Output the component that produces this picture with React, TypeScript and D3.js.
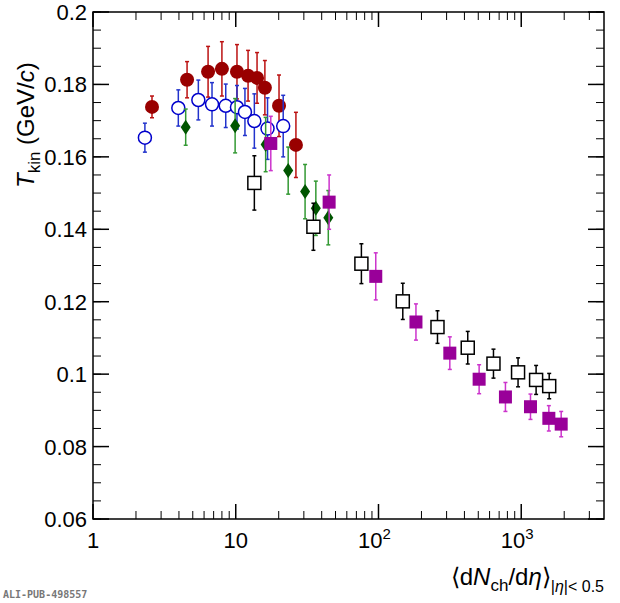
import React from "react";
import * as d3 from "d3";

const redX = [2.59, 4.56, 6.4, 8.0, 10.2, 12.2, 14.1, 16.0, 20.1, 26.4];
const redY = [0.1738, 0.1813, 0.1835, 0.1843, 0.1835, 0.1824, 0.1818, 0.1791, 0.1741, 0.1633];
const redE = [0.003, 0.005, 0.007, 0.0075, 0.0075, 0.007, 0.007, 0.0075, 0.0085, 0.009];

const blueX = [2.31, 3.96, 5.47, 6.82, 8.51, 10.2, 11.6, 13.5, 16.7, 21.5];
const blueY = [0.1653, 0.1735, 0.1757, 0.1745, 0.1741, 0.1737, 0.1724, 0.1699, 0.1678, 0.1685];
const blueE = [0.004, 0.005, 0.0055, 0.006, 0.006, 0.006, 0.0065, 0.0075, 0.0085, 0.0085];

const greenX = [4.46, 9.9, 16.2, 23.3, 30.6, 36.4, 44.5];
const greenY = [0.1682, 0.1686, 0.1634, 0.1562, 0.1504, 0.1458, 0.1432];
const greenE = [0.005, 0.0075, 0.0075, 0.0065, 0.0075, 0.0075, 0.0075];

const blackX = [13.5, 35.0, 75.9, 148, 259, 422, 639, 950, 1271, 1570];
const blackY = [0.1528, 0.1407, 0.1305, 0.1201, 0.113, 0.1073, 0.1029, 0.1005, 0.0984, 0.0967];
const blackE = [0.0075, 0.0065, 0.0055, 0.005, 0.0045, 0.0045, 0.004, 0.004, 0.004, 0.0035];

const magX = [17.6, 45.1, 95.7, 183, 316, 507, 775, 1161, 1561, 1905];
const magY = [0.1637, 0.1475, 0.127, 0.1144, 0.1058, 0.0986, 0.0937, 0.091, 0.0878, 0.0862];
const magE = [0.0075, 0.0075, 0.0065, 0.005, 0.0045, 0.004, 0.004, 0.0035, 0.0035, 0.0035];

const yTicks = [0.06, 0.08, 0.1, 0.12, 0.14, 0.16, 0.18, 0.2];
const yTickLabels = ["0.06", "0.08", "0.1", "0.12", "0.14", "0.16", "0.18", "0.2"];
const xTicks = [1, 10, 100, 1000];
const xTickLabels = ["1", "10", "10", "10"];
const xTickExp = ["", "", "2", "3"];

const L = 93, R = 604, T = 12, B = 519;
const FONT = "Liberation Sans, Arial, sans-serif";

export default function App() {
  const x = d3.scaleLog().domain([1, 3800]).range([L, R]);
  const y = d3.scaleLinear().domain([0.06, 0.2]).range([B, T]);

  const minorX: number[] = [];
  for (let p = 0; p < 4; p++) for (let m = 2; m <= 9; m++) { const v = m * Math.pow(10, p); if (v < 3800) minorX.push(v); }
  const minorY: number[] = d3.range(0.06, 0.2001, 0.005);

  const bars = (xs: number[], ys: number[], es: number[], col: string, k: string) =>
    xs.map((v, i) => (
      <g key={k + i} stroke={col} strokeWidth={1.5}>
        <line x1={x(v)} x2={x(v)} y1={y(ys[i] - es[i])} y2={y(ys[i] + es[i])} />
        <line x1={x(v) - 2} x2={x(v) + 2} y1={y(ys[i] - es[i])} y2={y(ys[i] - es[i])} />
        <line x1={x(v) - 2} x2={x(v) + 2} y1={y(ys[i] + es[i])} y2={y(ys[i] + es[i])} />
      </g>
    ));

  return (
    <div style={{ position: "absolute", left: 0, top: 0 }}>
      <svg width={620} height={603} style={{ display: "block", background: "#fff" }} fontFamily={FONT}>
        <rect x={L} y={T} width={R - L} height={B - T} fill="none" stroke="#000" strokeWidth={1.5} />
        {minorX.map((v, i) => (
          <g key={"mx" + i} stroke="#000" strokeWidth={1}>
            <line x1={x(v)} x2={x(v)} y1={B} y2={B - 8} />
            <line x1={x(v)} x2={x(v)} y1={T} y2={T + 8} />
          </g>
        ))}
        {xTicks.map((v, i) => (
          <g key={"xt" + i}>
            <line x1={x(v)} x2={x(v)} y1={B} y2={B - 15} stroke="#000" strokeWidth={1.5} />
            <line x1={x(v)} x2={x(v)} y1={T} y2={T + 15} stroke="#000" strokeWidth={1.5} />
            <text x={x(v) + (xTickExp[i] ? -4 : 0)} y={B + 29} fontSize={22} textAnchor="middle">
              {xTickLabels[i]}
              {xTickExp[i] && <tspan dy={-9} fontSize={15}>{xTickExp[i]}</tspan>}
            </text>
          </g>
        ))}
        {minorY.map((v, i) => (
          <g key={"my" + i} stroke="#000" strokeWidth={1}>
            <line x1={L} x2={L + 8} y1={y(v)} y2={y(v)} />
            <line x1={R} x2={R - 8} y1={y(v)} y2={y(v)} />
          </g>
        ))}
        {yTicks.map((v, i) => (
          <g key={"yt" + i}>
            <line x1={L} x2={L + 16} y1={y(v)} y2={y(v)} stroke="#000" strokeWidth={1.5} />
            <line x1={R} x2={R - 16} y1={y(v)} y2={y(v)} stroke="#000" strokeWidth={1.5} />
            <text x={L - 6} y={y(v) + 8} fontSize={22} textAnchor="end">{yTickLabels[i]}</text>
          </g>
        ))}
        <text transform="translate(34,188) rotate(-90)" fontSize={24} textAnchor="start">
          <tspan fontStyle="italic">T</tspan>
          <tspan dy={6} fontSize={17}>kin</tspan>
          <tspan dy={-6}> (GeV/</tspan>
          <tspan fontStyle="italic">c</tspan>
          <tspan>)</tspan>
        </text>
        <text x={604} y={585} fontSize={24} textAnchor="end">
          <tspan>⟨d</tspan>
          <tspan fontStyle="italic">N</tspan>
          <tspan dy={6} fontSize={17}>ch</tspan>
          <tspan dy={-6}>/d</tspan>
          <tspan fontStyle="italic">η</tspan>
          <tspan>⟩</tspan>
          <tspan dy={7} fontSize={16}>|</tspan>
          <tspan fontSize={16} fontStyle="italic">η</tspan>
          <tspan fontSize={16}>|&lt; 0.5</tspan>
        </text>
        <text x={3} y={598} fontSize={10} fontFamily="DejaVu Sans Mono, monospace" fontWeight="bold" fill="#777">ALI-PUB-498557</text>

        {bars(redX, redY, redE, "#bb1111", "r")}
        {redX.map((v, i) => <circle key={"rc" + i} cx={x(v)} cy={y(redY[i])} r={7} fill="#990000" />)}

        {bars(blueX, blueY, blueE, "#2233cc", "b")}
        {blueX.map((v, i) => <circle key={"bc" + i} cx={x(v)} cy={y(blueY[i])} r={6.5} fill="#fff" stroke="#0000cc" strokeWidth={1.5} />)}

        {bars(greenX, greenY, greenE, "#339933", "g")}
        {greenX.map((v, i) => {
          const cx = x(v), cy = y(greenY[i]);
          return <path key={"gd" + i} d={`M${cx},${cy - 7.5}L${cx + 5},${cy}L${cx},${cy + 7.5}L${cx - 5},${cy}Z`} fill="#005500" />;
        })}

        {bars(blackX, blackY, blackE, "#000", "k")}
        {blackX.map((v, i) => <rect key={"ks" + i} x={x(v) - 6.5} y={y(blackY[i]) - 6.5} width={13} height={13} fill="#fff" stroke="#000" strokeWidth={1.5} />)}

        {bars(magX, magY, magE, "#cc33cc", "m")}
        {magX.map((v, i) => <rect key={"ms" + i} x={x(v) - 6.5} y={y(magY[i]) - 6.5} width={13} height={13} fill="#990099" />)}
      </svg>
    </div>
  );
}
